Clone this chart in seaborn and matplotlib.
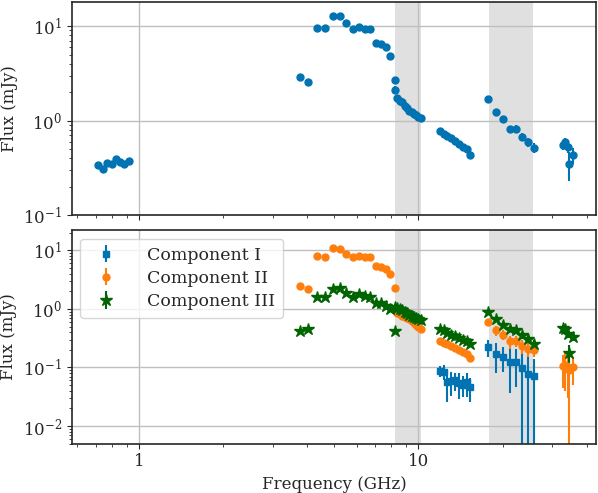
import numpy as np
import matplotlib
matplotlib.use("Agg")
import matplotlib.pyplot as plt
import seaborn as sns

sns.set_style("ticks")
plt.rcParams['font.family'] = ['DejaVu Serif']
plt.rcParams['mathtext.fontset'] = 'dejavuserif'

# total flux (top panel)
f_tot = [0.714, 0.744, 0.768, 0.797, 0.823, 0.855, 0.882, 0.918,
         3.75, 4.03, 4.33, 4.64, 4.94, 5.23, 5.52, 5.82, 6.12, 6.42, 6.70, 7.05, 7.35, 7.63, 7.92, 8.23, 8.25,
         8.38, 8.57, 8.76, 8.93, 9.10, 9.27, 9.45, 9.63, 9.81, 10.0, 10.2,
         11.9, 12.3, 12.7, 13.1, 13.5, 14.0, 14.4, 14.9, 15.3,
         17.8, 19.0, 20.1, 21.2, 22.4, 23.5, 24.7, 25.9,
         32.8, 33.5, 34.2, 34.7, 35.9]
s_tot = [0.34, 0.31, 0.36, 0.35, 0.39, 0.37, 0.35, 0.38,
         2.91, 2.55, 9.6, 9.6, 12.8, 12.7, 10.8, 9.35, 9.9, 9.35, 9.35, 6.59, 6.4, 6.06, 4.8, 2.68, 2.12,
         1.76, 1.62, 1.56, 1.43, 1.37, 1.28, 1.24, 1.18, 1.14, 1.10, 1.07,
         0.78, 0.73, 0.69, 0.65, 0.61, 0.57, 0.53, 0.50, 0.43,
         1.68, 1.23, 1.04, 0.82, 0.82, 0.68, 0.59, 0.52,
         0.55, 0.60, 0.53, 0.35, 0.43]
e_tot = [0.02] * 8 + [0.2] * 17 + [0.04] * 11 + [0.02] * 9 + \
        [0.12, 0.08, 0.08, 0.07, 0.08, 0.07, 0.06, 0.06] + [0.06, 0.06, 0.07, 0.12, 0.08]

# component I
f_c1 = [11.9, 12.3, 12.7, 13.1, 13.5, 14.0, 14.4, 14.9, 15.3,
        17.8, 19.0, 20.1, 21.2, 22.4, 23.5, 24.7, 25.9]
s_c1 = [0.088, 0.085, 0.056, 0.058, 0.060, 0.054, 0.051, 0.056, 0.046,
        0.22, 0.17, 0.153, 0.126, 0.126, 0.097, 0.077, 0.072]
e_c1 = [0.02, 0.025, 0.03, 0.025, 0.02, 0.025, 0.02, 0.025, 0.02,
        0.07, 0.09, 0.07, 0.09, 0.08, 0.095, 0.08, 0.07]

# component II
f_c2 = [3.75, 4.03, 4.33, 4.64, 4.94, 5.23, 5.52, 5.82, 6.12, 6.42, 6.70, 7.05, 7.35, 7.63, 7.92, 8.23,
        8.38, 8.57, 8.76, 8.93, 9.10, 9.27, 9.45, 9.63, 9.81, 10.0, 10.2,
        11.9, 12.3, 12.7, 13.1, 13.5, 14.0, 14.4, 14.9, 15.3,
        17.8, 19.0, 20.1, 21.2, 22.4, 23.5, 24.7, 25.9,
        32.8, 33.5, 34.2, 34.7, 35.9]
s_c2 = [2.47, 2.15, 7.9, 7.7, 10.9, 10.5, 8.8, 7.7, 8.1, 7.7, 7.7, 5.4, 5.2, 4.9, 4.0, 2.26,
        0.86, 0.81, 0.77, 0.73, 0.70, 0.66, 0.63, 0.58, 0.54, 0.49, 0.45,
        0.28, 0.265, 0.25, 0.23, 0.215, 0.20, 0.185, 0.17, 0.145,
        0.60, 0.43, 0.36, 0.28, 0.28, 0.23, 0.21, 0.20,
        0.105, 0.11, 0.10, 0.09, 0.10]
e_c2 = [0.1] * 16 + [0.03] * 11 + [0.01] * 9 + \
       [0.08, 0.08, 0.07, 0.07, 0.06, 0.06, 0.06, 0.05] + [0.06, 0.07, 0.07, 0.089, 0.05]

# component III
f_c3 = [3.75, 4.03, 4.33, 4.64, 4.94, 5.23, 5.52, 5.82, 6.12, 6.42, 6.70, 7.05, 7.35, 7.63, 7.92, 8.23, 8.25,
        8.38, 8.57, 8.76, 8.93, 9.10, 9.27, 9.45, 9.63, 9.81, 10.0, 10.2,
        11.9, 12.3, 12.7, 13.1, 13.5, 14.0, 14.4, 14.9, 15.3,
        17.8, 19.0, 20.1, 21.2, 22.4, 23.5, 24.7, 25.9,
        32.8, 33.5, 34.2, 34.7, 35.9]
s_c3 = [0.42, 0.46, 1.61, 1.63, 2.17, 2.29, 1.84, 1.63, 1.77, 1.68, 1.57, 1.26, 1.26, 1.14, 1.0, 0.42, 1.1,
        1.05, 1.0, 0.95, 0.9, 0.85, 0.8, 0.77, 0.74, 0.71, 0.68, 0.65,
        0.45, 0.43, 0.39, 0.36, 0.35, 0.32, 0.30, 0.28, 0.25,
        0.88, 0.66, 0.54, 0.45, 0.43, 0.36, 0.31, 0.25,
        0.47, 0.45, 0.38, 0.18, 0.33]
e_c3 = [0.03] * 17 + [0.03] * 11 + [0.015] * 9 + [0.05] * 8 + [0.05, 0.05, 0.06, 0.06, 0.05]

bands = [(8.25, 10.2), (17.9, 25.8)]
blue, orange, green = '#0173b2', '#ff7f0e', '#006400'

fig, (ax1, ax2) = plt.subplots(2, 1, figsize=(5.98, 4.93), dpi=100, sharex=True)
fig.subplots_adjust(left=0.12, right=0.997, top=0.996, bottom=0.1, hspace=0.07)

for ax in (ax1, ax2):
    ax.set_xscale('log')
    ax.set_yscale('log')
    for lo, hi in bands:
        ax.axvspan(lo, hi, color='0.85', alpha=0.8, lw=0, zorder=0)
    ax.grid(True, which='major', color='0.75', lw=1)
    ax.set_ylabel('Flux (mJy)', fontsize=12)
    ax.tick_params(labelsize=12)
    ax.set_axisbelow(True)
    for sp in ax.spines.values():
        sp.set_color('0.15')
        sp.set_linewidth(1.2)

ax1.errorbar(f_tot, s_tot, yerr=e_tot, fmt='o', color=blue, ms=5, elinewidth=1.5, ls='none')
ax1.set_ylim(0.1, 18)

ax2.errorbar(f_c1, s_c1, yerr=e_c1, fmt='s', color=blue, ms=5, elinewidth=1.5, label='Component I')
ax2.errorbar(f_c2, s_c2, yerr=e_c2, fmt='o', color=orange, ms=5, elinewidth=1.5, label='Component II')
ax2.errorbar(f_c3, s_c3, yerr=e_c3, fmt='*', color=green, ms=9, elinewidth=1.5, label='Component III')
ax2.set_ylim(0.005, 22)
ax2.set_xlim(0.573, 43.3)
ax2.set_xlabel('Frequency (GHz)', fontsize=12)
ax2.set_xticks([1, 10])
ax2.set_xticklabels(['1', '10'])
ax2.legend(loc='upper left', fontsize=12.5, handletextpad=1.4, borderpad=0.45, labelspacing=0.35)

fig.savefig('out.png', dpi=100)
